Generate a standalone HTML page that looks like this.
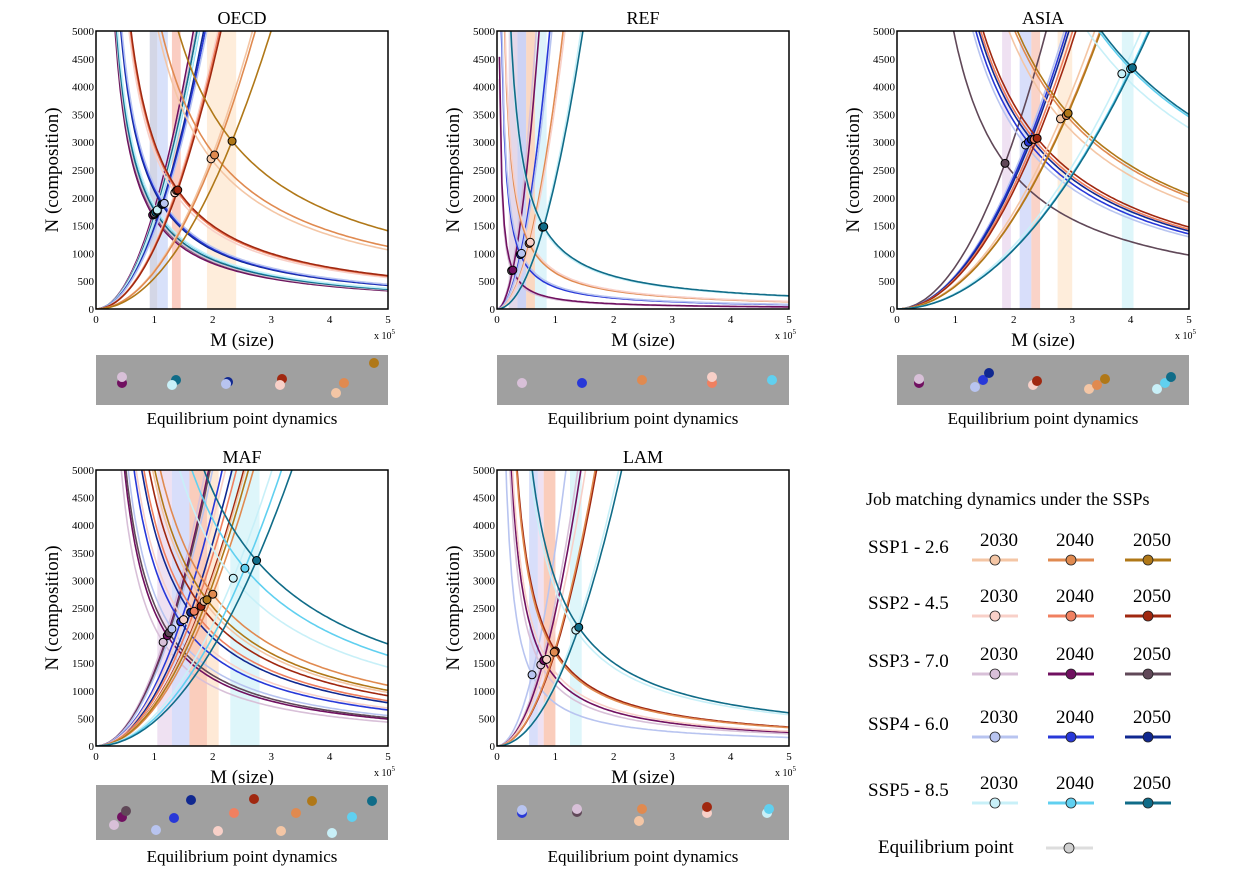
<!DOCTYPE html><html><head><meta charset="utf-8"><style>
body{margin:0;background:#fff;}svg{display:block;font-family:"Liberation Serif",serif;}
</style></head><body>
<svg id="s" width="1234" height="872" xmlns="http://www.w3.org/2000/svg"></svg>
<script>
const C={s1:['#f4c6a5','#e08a50','#b07818'],s2:['#f8d0c8','#f08060','#a02810'],s3:['#d8c0d8','#701060','#604858'],s4:['#b8c4f0','#2838d8','#102890'],s5:['#c8f0f8','#60d0f0','#106c88']};
const S=document.getElementById('s');let h='';
function P(n,x0,y0,x1,y1,pts,bands,gy,dots){
 const sx=m=>x0+(x1-x0)*m/5, sy=v=>y1-(y1-y0)*v/5000;
 h+=`<text x="${(x0+x1)/2}" y="${y0-7}" font-size="18" text-anchor="middle">${n}</text>`;
 h+=`<clipPath id="c${n}"><rect x="${x0}" y="${y0}" width="${x1-x0}" height="${y1-y0}"/></clipPath><g clip-path="url(#c${n})">`;
 bands.forEach(b=>h+=`<rect x="${sx(b[0])}" y="${y0}" width="${sx(b[1])-sx(b[0])}" height="${y1-y0}" fill="${b[2]}" opacity="0.7"/>`);
 pts.forEach(p=>{const [m,v,col]=p;let a='',b='';
  for(let i=1;i<=120;i++){const M=5*i/120;const d=v*m/M;a+=(i==1?'M':'L')+sx(M).toFixed(1)+','+sy(Math.min(d,6000)).toFixed(1);}
  for(let i=0;i<=120;i++){const M=5*i/120;const u=v*(M/m)*(M/m);b+=(i==0?'M':'L')+sx(M).toFixed(1)+','+sy(Math.min(u,6000)).toFixed(1);}
  h+=`<path d="${a}" fill="none" stroke="${col}" stroke-width="1.6"/><path d="${b}" fill="none" stroke="${col}" stroke-width="1.6"/>`;});
 pts.forEach(p=>h+=`<circle cx="${sx(p[0])}" cy="${sy(p[1])}" r="4" fill="${p[2]}" stroke="#000" stroke-width="1"/>`);
 h+=`</g><rect x="${x0}" y="${y0}" width="${x1-x0}" height="${y1-y0}" fill="none" stroke="#000" stroke-width="1.5"/>`;
 for(let v=0;v<=5000;v+=500){h+=`<text x="${x0-2}" y="${sy(v)+4}" font-size="11" text-anchor="end">${v}</text>`;}
 for(let m=0;m<=5;m++){h+=`<text x="${sx(m)}" y="${y1+14}" font-size="11" text-anchor="middle">${m}</text>`;}
 h+=`<text x="${(x0+x1)/2}" y="${y1+37}" font-size="19" text-anchor="middle">M (size)</text>`;
 h+=`<text x="${x1-14}" y="${y1+30}" font-size="10">x 10<tspan dy="-5" font-size="7">5</tspan></text>`;
 h+=`<text transform="translate(${x0-38},${(y0+y1)/2}) rotate(-90)" font-size="19" text-anchor="middle">N (composition)</text>`;
 h+=`<rect x="${x0}" y="${gy}" width="${x1-x0}" height="${gy==785?55:50}" fill="#a0a0a0"/>`;
 dots.forEach(d=>h+=`<circle cx="${x0+d[0]}" cy="${gy+d[1]}" r="5" fill="${d[2]}"/>`);
 h+=`<text x="${(x0+x1)/2}" y="${gy+(gy==785?77:69)}" font-size="17" text-anchor="middle">Equilibrium point dynamics</text>`;
}
P('OECD',96,31,388,309,[[0.97,1690,C.s3[1]],[1,1700,C.s3[2]],[1,1720,C.s3[0]],[1.02,1740,C.s5[2]],[1.05,1760,C.s5[1]],[1.05,1780,C.s5[0]],[1.13,1880,C.s4[2]],[1.15,1890,C.s4[1]],[1.17,1900,C.s4[0]],[1.35,2090,C.s2[0]],[1.38,2130,C.s2[1]],[1.4,2140,C.s2[2]],[1.97,2700,C.s1[0]],[2.03,2770,C.s1[1]],[2.33,3020,C.s1[2]]],
 [[0.92,1.05,'#c0c4dc'],[1.05,1.23,'#c8d4f8'],[1.3,1.45,'#f8b8a8'],[1.9,2.4,'#fde6cc']],355,
 [[26,28,C.s3[1]],[26,22,C.s3[0]],[80,25,C.s5[2]],[76,30,C.s5[0]],[132,27,C.s4[2]],[130,29,C.s4[0]],[186,24,C.s2[2]],[184,30,C.s2[0]],[248,28,C.s1[1]],[240,38,C.s1[0]],[278,8,C.s1[2]]]);
P('REF',497,31,789,309,[[0.25,690,C.s3[0]],[0.27,700,C.s3[1]],[0.4,980,C.s4[1]],[0.42,1000,C.s4[0]],[0.55,1180,C.s1[1]],[0.57,1200,C.s2[0]],[0.78,1470,C.s5[0]],[0.8,1480,C.s5[2]]],
 [[0.2,0.35,'#d8c8e0'],[0.35,0.5,'#b8c0f0'],[0.5,0.65,'#f8c8a8'],[0.65,0.85,'#d0f0f8']],355,
 [[25,28,C.s3[0]],[85,28,C.s4[1]],[145,25,C.s1[1]],[215,28,C.s2[1]],[215,22,C.s2[0]],[275,25,C.s5[1]]]);
P('ASIA',897,31,1189,309,[[1.85,2620,C.s3[2]],[2.2,2950,C.s4[0]],[2.25,3000,C.s4[1]],[2.3,3050,C.s4[2]],[2.35,3050,C.s2[1]],[2.4,3070,C.s2[2]],[2.8,3420,C.s1[0]],[2.9,3480,C.s1[1]],[2.93,3520,C.s1[2]],[3.85,4230,C.s5[0]],[4.0,4320,C.s5[1]],[4.03,4340,C.s5[2]]],
 [[1.8,1.95,'#e8d4ec'],[2.1,2.3,'#c8d0f8'],[2.3,2.45,'#f8c0b0'],[2.75,3.0,'#fde6cc'],[3.85,4.05,'#d0f2f8']],355,
 [[22,28,C.s3[1]],[22,24,C.s3[0]],[78,32,C.s4[0]],[86,25,C.s4[1]],[92,18,C.s4[2]],[136,30,C.s2[0]],[140,26,C.s2[2]],[192,34,C.s1[0]],[200,30,C.s1[1]],[208,24,C.s1[2]],[260,34,C.s5[0]],[268,28,C.s5[1]],[274,22,C.s5[2]]]);
P('MAF',96,470,388,746,[[1.15,1880,C.s3[0]],[1.22,2000,C.s3[1]],[1.25,2050,C.s3[2]],[1.3,2120,C.s4[0]],[1.45,2250,C.s4[1]],[1.62,2420,C.s4[2]],[1.5,2290,C.s2[0]],[1.68,2440,C.s2[1]],[1.8,2530,C.s2[2]],[1.85,2620,C.s1[0]],[2.0,2750,C.s1[1]],[1.9,2650,C.s1[2]],[2.35,3040,C.s5[0]],[2.55,3220,C.s5[1]],[2.75,3360,C.s5[2]]],
 [[1.05,1.3,'#e8d4ec'],[1.3,1.6,'#c8d0f8'],[1.6,1.9,'#f8b8a0'],[1.9,2.1,'#fde0c4'],[2.3,2.8,'#d0f2f8']],785,
 [[18,40,C.s3[0]],[26,32,C.s3[1]],[30,26,C.s3[2]],[60,45,C.s4[0]],[78,33,C.s4[1]],[95,15,C.s4[2]],[122,46,C.s2[0]],[138,28,C.s2[1]],[158,14,C.s2[2]],[185,46,C.s1[0]],[200,28,C.s1[1]],[216,16,C.s1[2]],[236,48,C.s5[0]],[256,32,C.s5[1]],[276,16,C.s5[2]]]);
P('LAM',497,470,789,746,[[0.6,1290,C.s4[0]],[0.75,1470,C.s3[0]],[0.8,1550,C.s3[1]],[0.85,1570,C.s2[0]],[1.0,1720,C.s2[2]],[0.98,1700,C.s1[1]],[1.35,2100,C.s5[0]],[1.4,2150,C.s5[2]]],
 [[0.55,0.7,'#c8d0f8'],[0.7,0.8,'#e8d4ec'],[0.8,1.0,'#f8b8a0'],[1.25,1.45,'#d0f2f8']],785,
 [[25,28,C.s4[1]],[25,25,C.s4[0]],[80,27,C.s3[2]],[80,24,C.s3[0]],[142,36,C.s1[0]],[145,24,C.s1[1]],[210,28,C.s2[0]],[210,22,C.s2[2]],[270,28,C.s5[0]],[272,24,C.s5[1]]]);
// legend
h+=`<text x="866" y="505" font-size="18">Job matching dynamics under the SSPs</text>`;
const rows=[['SSP1 - 2.6',560,C.s1],['SSP2 - 4.5',616,C.s2],['SSP3 - 7.0',674,C.s3],['SSP4 - 6.0',737,C.s4],['SSP5 - 8.5',803,C.s5]];
const cx=[995,1071,1148];const yrs=['2030','2040','2050'];
rows.forEach(r=>{h+=`<text x="868" y="${r[1]-7}" font-size="19">${r[0]}</text>`;
 cx.forEach((x,i)=>{h+=`<text x="${x+4}" y="${r[1]-14}" font-size="19" text-anchor="middle">${yrs[i]}</text><line x1="${x-23}" x2="${x+23}" y1="${r[1]}" y2="${r[1]}" stroke="${r[2][i]}" stroke-width="3"/><circle cx="${x}" cy="${r[1]}" r="5" fill="${r[2][i]}" stroke="#222" stroke-width="0.8"/>`;});});
h+=`<text x="878" y="853" font-size="19">Equilibrium point</text><line x1="1046" x2="1093" y1="848" y2="848" stroke="#ddd" stroke-width="3"/><circle cx="1069" cy="848" r="5" fill="#d0d0d0" stroke="#222" stroke-width="0.8"/>`;
S.innerHTML=h;
</script></body></html>
